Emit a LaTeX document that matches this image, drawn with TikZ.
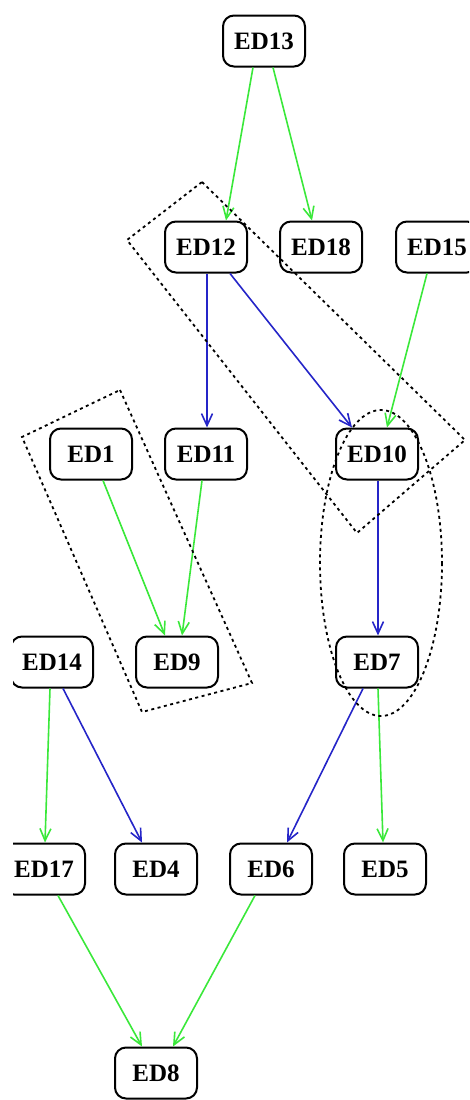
\documentclass[tikz,border=0pt]{standalone}
\usepackage{fontspec}
\setmainfont{Liberation Serif}
\usepackage{tikz}
\usetikzlibrary{arrows.meta}
\usepackage{xcolor}
\definecolor{edgegreen}{HTML}{3AE83A}
\definecolor{edgeblue}{HTML}{2525C8}

\begin{document}
\begin{tikzpicture}[x=1pt, y=-1pt,
  edbox/.style={draw, line width=2pt, rounded corners=11pt, minimum width=82pt,
    minimum height=51pt, inner sep=0pt, font=\fontsize{25}{27}\selectfont\bfseries},
  grn/.style={edgegreen, line width=1.6pt, -{Straight Barb[length=12pt,width=11pt]}},
  blu/.style={edgeblue, line width=1.6pt, -{Straight Barb[length=12pt,width=11pt]}},
  grp/.style={black, line width=1.8pt, dash pattern=on 3pt off 3.5pt}]
  \useasboundingbox (0,0) rectangle (469,1100);
  \clip (13,-10) rectangle (469,1110);

  % Nodes
  \node[edbox] (ED13) at (264,41) {ED13};
  \node[edbox] (ED12) at (206,247) {ED12};
  \node[edbox] (ED18) at (321,247) {ED18};
  \node[edbox] (ED15) at (437,247) {ED15};
  \node[edbox] (ED1)  at (91,454)  {ED1};
  \node[edbox] (ED11) at (206,454) {ED11};
  \node[edbox] (ED10) at (377,454) {ED10};
  \node[edbox] (ED14) at (52,662)  {ED14};
  \node[edbox] (ED9)  at (177,662) {ED9};
  \node[edbox] (ED7)  at (377,662) {ED7};
  \node[edbox] (ED17) at (44,869)  {ED17};
  \node[edbox] (ED4)  at (156,869) {ED4};
  \node[edbox] (ED6)  at (271,869) {ED6};
  \node[edbox] (ED5)  at (385,869) {ED5};
  \node[edbox] (ED8)  at (156,1073) {ED8};

  % Edges
  \draw[grn] ([xshift=-11pt]ED13.south) -- ([xshift=20pt]ED12.north);
  \draw[grn] ([xshift=9pt]ED13.south) -- ([xshift=-9pt]ED18.north);
  \draw[blu] ([xshift=1pt]ED12.south) -- ([xshift=1pt]ED11.north);
  \draw[blu] ([xshift=24pt]ED12.south) -- ([xshift=-25pt]ED10.north);
  \draw[grn] ([xshift=-10pt]ED15.south) -- ([xshift=10pt]ED10.north);
  \draw[grn] ([xshift=12pt]ED1.south) -- ([xshift=-12pt]ED9.north);
  \draw[grn] ([xshift=-4pt]ED11.south) -- ([xshift=5pt]ED9.north);
  \draw[blu] ([xshift=1pt]ED10.south) -- ([xshift=1pt]ED7.north);
  \draw[grn] ([xshift=-2pt]ED14.south) -- ([xshift=1pt]ED17.north);
  \draw[blu] ([xshift=11pt]ED14.south) -- ([xshift=-14pt]ED4.north);
  \draw[blu] ([xshift=-14pt]ED7.south) -- ([xshift=16pt]ED6.north);
  \draw[grn] ([xshift=1pt]ED7.south) -- ([xshift=-2pt]ED5.north);
  \draw[grn] ([xshift=14pt]ED17.south) -- ([xshift=-14pt]ED8.north);
  \draw[grn] ([xshift=-16pt]ED6.south) -- ([xshift=17pt]ED8.north);

  % Dashed groups
  \draw[grp] (202,182) -- (465,440) -- (357,533) -- (127,240) -- cycle;
  \draw[grp] (120,390) -- (252,683) -- (142,712) -- (22,437) -- cycle;
  \draw[grp] (381,563) ellipse[x radius=61, y radius=153];
\end{tikzpicture}
\end{document}
